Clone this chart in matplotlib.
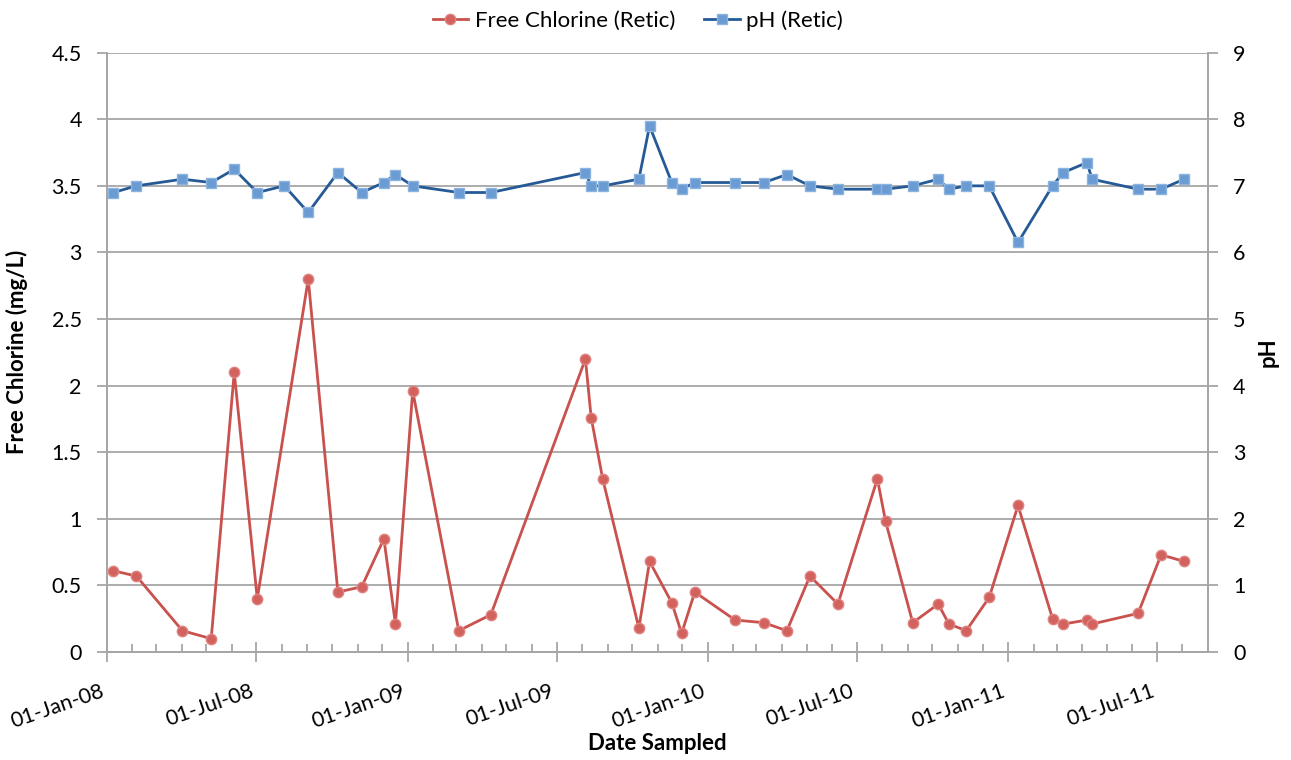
import matplotlib
matplotlib.use('Agg')
import matplotlib.pyplot as plt
import matplotlib.dates as mdates
import pandas as pd

plt.rcParams['font.family'] = ['Lato', 'DejaVu Sans']

# ---------------- data ----------------
ph_dates = ['2008-01-09', '2008-02-06', '2008-04-02', '2008-05-07', '2008-06-04',
            '2008-07-02', '2008-08-04', '2008-09-02', '2008-10-08', '2008-11-06',
            '2008-12-03', '2008-12-17', '2009-01-07', '2009-03-04', '2009-04-12',
            '2009-08-05', '2009-08-12', '2009-08-26', '2009-10-09', '2009-10-22',
            '2009-11-18', '2009-11-30', '2009-12-16', '2010-02-03', '2010-03-10',
            '2010-04-07', '2010-05-05', '2010-06-08', '2010-07-26', '2010-08-05',
            '2010-09-07', '2010-10-08', '2010-10-21', '2010-11-11', '2010-12-09',
            '2011-01-13', '2011-02-24', '2011-03-09', '2011-04-07', '2011-04-13',
            '2011-06-08', '2011-07-06', '2011-08-03']
ph_values = [6.9, 7.0, 7.1, 7.05, 7.25,
             6.9, 7.0, 6.6, 7.2, 6.9,
             7.05, 7.17, 7.0, 6.9, 6.9,
             7.2, 7.0, 7.0, 7.1, 7.9,
             7.05, 6.95, 7.05, 7.05, 7.05,
             7.17, 7.0, 6.95, 6.95, 6.95,
             7.0, 7.1, 6.95, 7.0, 7.0,
             6.15, 7.0, 7.2, 7.35, 7.1,
             6.95, 6.95, 7.1]

cl_dates = ['2008-01-09', '2008-02-06', '2008-04-02', '2008-05-07', '2008-06-04',
            '2008-07-02', '2008-09-02', '2008-10-08', '2008-11-06',
            '2008-12-03', '2008-12-17', '2009-01-07', '2009-03-04', '2009-04-12',
            '2009-08-05', '2009-08-12', '2009-08-26', '2009-10-09', '2009-10-22',
            '2009-11-18', '2009-11-30', '2009-12-16', '2010-02-03', '2010-03-10',
            '2010-04-07', '2010-05-05', '2010-06-08', '2010-07-26', '2010-08-05',
            '2010-09-07', '2010-10-08', '2010-10-21', '2010-11-11', '2010-12-09',
            '2011-01-13', '2011-02-24', '2011-03-09', '2011-04-07', '2011-04-13',
            '2011-06-08', '2011-07-06', '2011-08-03']
cl_values = [0.61, 0.57, 0.16, 0.10, 2.10,
             0.40, 2.80, 0.45, 0.49,
             0.85, 0.21, 1.96, 0.16, 0.28,
             2.20, 1.76, 1.30, 0.18, 0.68,
             0.37, 0.14, 0.45, 0.24, 0.22,
             0.16, 0.57, 0.36, 1.30, 0.98,
             0.22, 0.36, 0.21, 0.16, 0.41,
             1.10, 0.25, 0.21, 0.24, 0.21,
             0.29, 0.73, 0.68]

cl_label = 'Free Chlorine (Retic)'
ph_label = 'pH (Retic)'
x_start, x_end = '2008-01-01', '2011-09-01'
left_ticks = [0, 0.5, 1, 1.5, 2, 2.5, 3, 3.5, 4, 4.5]
left_ticklabels = ['0', '0.5', '1', '1.5', '2', '2.5', '3', '3.5', '4', '4.5']
right_ticks = [0, 1, 2, 3, 4, 5, 6, 7, 8, 9]

# ---------------- plot ----------------
grid_c = '#a6a6a6'
fs_tick = 15.5
fs_lab = 16
fig = plt.figure(figsize=(12.91, 7.6), dpi=100)
ax = fig.add_axes([0.0827, 0.1421, 0.8530, 0.7886])
ax2 = ax.twinx()

ax.set_xlim(pd.Timestamp(x_start), pd.Timestamp(x_end))
ax.set_ylim(0, 4.5)
ax2.set_ylim(0, 9)

ax.set_yticks(left_ticks)
ax.set_yticklabels(left_ticklabels)
ax2.set_yticks(right_ticks)

ax.yaxis.grid(True, color=grid_c, linewidth=1.3)
ax.set_axisbelow(True)

l1, = ax.plot(pd.to_datetime(cl_dates), cl_values, color='#C9514E', linewidth=2.0,
              marker='o', markersize=7.5, markerfacecolor='#D3625F',
              markeredgecolor='#DE8583', markeredgewidth=1.0, label=cl_label, zorder=3)
l2, = ax2.plot(pd.to_datetime(ph_dates), ph_values, color='#255A96', linewidth=2.0,
               marker='s', markersize=7.5, markerfacecolor='#6A9BD3',
               markeredgecolor='#8DB3DF', markeredgewidth=1.0, label=ph_label, zorder=3)

ax.xaxis.set_major_locator(mdates.MonthLocator(bymonth=[1, 7]))
ax.xaxis.set_minor_locator(mdates.MonthLocator())
ax.xaxis.set_major_formatter(mdates.DateFormatter('%d-%b-%y'))

for a in (ax, ax2):
    for s in a.spines.values():
        s.set_color(grid_c)
        s.set_linewidth(1.3)
    a.spines['top'].set_visible(False)

ax.tick_params(axis='x', which='major', direction='inout', length=14, width=1.3,
               color=grid_c, labelsize=fs_tick, pad=14)
ax.tick_params(axis='x', which='minor', direction='in', length=6, width=1.3, color=grid_c)
ax.tick_params(axis='y', direction='out', length=7, width=1.3, color=grid_c,
               labelsize=fs_tick, pad=11)
ax2.tick_params(axis='y', direction='out', length=7, width=1.3, color=grid_c,
                labelsize=fs_tick, pad=11)

for lab in ax.get_xticklabels():
    lab.set_rotation(19)
    lab.set_ha('right')
    lab.set_va('top')

ax.set_ylabel('Free Chlorine (mg/L)', fontsize=fs_lab, fontweight='bold')
ax.yaxis.set_label_coords(-0.0715, 0.5)
ax2.set_ylabel('pH', fontsize=fs_lab, fontweight='bold')
ax2.yaxis.set_label_coords(1.0454, 0.5)
ax.set_xlabel('Date Sampled', fontsize=fs_lab, fontweight='bold')
ax.xaxis.set_label_coords(0.5, -0.135)

fig.legend(handles=[l1, l2], loc='upper center', bbox_to_anchor=(0.494, 1.013), ncol=2,
           frameon=False, fontsize=fs_lab, handlelength=1.6, columnspacing=1.3,
           handletextpad=0.3)

fig.savefig('out.png', dpi=100)
